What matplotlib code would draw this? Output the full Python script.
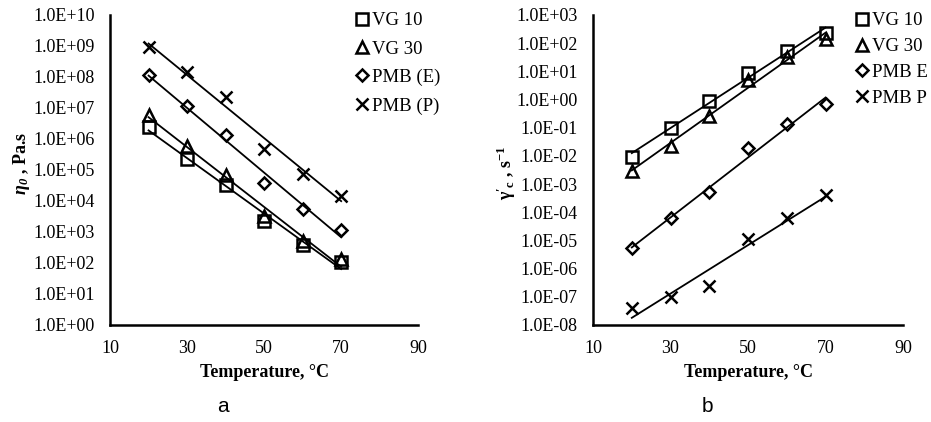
import numpy as np
import matplotlib
matplotlib.use("Agg")
import matplotlib.pyplot as plt

plt.rcParams['font.family'] = ['Liberation Serif', 'DejaVu Serif']
plt.rcParams['mathtext.fontset'] = 'custom'
plt.rcParams['mathtext.rm'] = 'Liberation Serif'
plt.rcParams['mathtext.it'] = 'Liberation Serif:italic'
plt.rcParams['mathtext.bf'] = 'Liberation Serif:bold'
plt.rcParams['mathtext.bfit'] = 'Liberation Serif:italic:bold'

temps = [20, 30, 40, 50, 60, 70]

# Panel a: zero-shear viscosity (Pa.s)
eta_vg10 = [2.5e6, 2.3e5, 3.3e4, 2.2e3, 3.8e2, 1.1e2]
eta_vg30 = [5.9e6, 6.0e5, 6.9e4, 3.3e3, 5.3e2, 1.3e2]
eta_pmbe = [1.15e8, 1.15e7, 1.3e6, 3.9e4, 5.4e3, 1.15e3]
eta_pmbp = [9.5e8, 1.5e8, 2.2e7, 4.8e5, 7.4e4, 1.5e4]
labels_a = ["VG 10", "VG 30", "PMB (E)", "PMB (P)"]

# Panel b: critical shear rate (1/s)
gam_vg10 = [9.3e-3, 0.10, 0.90, 8.5, 54, 235]
gam_vg30 = [2.8e-3, 0.023, 0.26, 4.9, 33, 138]
gam_pmbe = [5.2e-6, 6.1e-5, 5.1e-4, 0.0196, 0.135, 0.69]
gam_pmbp = [3.9e-8, 1.0e-7, 2.5e-7, 1.1e-5, 6.1e-5, 4.1e-4]
labels_b = ["VG 10", "VG 30", "PMB E", "PMB P"]

markers = ['s', '^', 'D', 'x']
msizes = [8, 8, 6, 8]

fig = plt.figure(figsize=(9.31, 4.22), dpi=100)
axa = fig.add_axes([0.1182, 0.2299, 0.331, 0.7346])
axb = fig.add_axes([0.637, 0.2299, 0.333, 0.7346])


def fmt(k):
    return "1.0E%s%02d" % ('+' if k >= 0 else '-', abs(k))


def draw(ax, series, labels, ylo, yhi, ylabel, leg_x, leg_y, spacing, ylab_xy):
    t = np.array(temps, dtype=float)
    handles = []
    for vals, lab, m, ms in zip(series, labels, markers, msizes):
        v = np.array(vals, dtype=float)
        c = np.polyfit(t, np.log10(v), 1)
        ax.plot(t, 10 ** np.polyval(c, t), color='black', lw=1.3, zorder=2)
        h, = ax.plot(t, v, linestyle='none', marker=m, markersize=ms,
                     markerfacecolor='none', markeredgecolor='black',
                     markeredgewidth=1.8, label=lab, zorder=3)
        handles.append(h)
    ax.set_yscale('log')
    ax.set_xlim(10, 90)
    ax.set_ylim(10.0 ** ylo, 10.0 ** yhi)
    ax.set_xticks([10, 30, 50, 70, 90])
    ax.set_yticks([10.0 ** k for k in range(ylo, yhi + 1)])
    ax.minorticks_off()
    ax.set_yticklabels([fmt(k) for k in range(ylo, yhi + 1)])
    ax.tick_params(axis='both', length=0, labelsize=13)
    ax.tick_params(axis='y', pad=11)
    ax.tick_params(axis='x', pad=11)
    for s in ['top', 'right']:
        ax.spines[s].set_visible(False)
    for s in ['left', 'bottom']:
        ax.spines[s].set_linewidth(1.8)
    ax.set_xlabel("Temperature, °C", fontsize=13, fontweight='bold', labelpad=5)
    ax.set_ylabel(ylabel, fontsize=13, fontweight='bold')
    ax.yaxis.set_label_coords(*ylab_xy)
    ax.legend(handles=handles, loc='upper left', bbox_to_anchor=(leg_x, leg_y),
              bbox_transform=fig.transFigure, frameon=False, fontsize=13.5,
              handlelength=0.8, handletextpad=0.15, borderpad=0, borderaxespad=0,
              labelspacing=spacing)


draw(axa, [eta_vg10, eta_vg30, eta_pmbe, eta_pmbp], labels_a, 0, 10,
     r"$\mathbfit{\eta_0}$ , Pa.s", 354 / 931, 1 - 12 / 422, 0.6, (-0.253, 0.52))
draw(axb, [gam_vg10, gam_vg30, gam_pmbe, gam_pmbp], labels_b, -8, 3,
     r"$\mathbf{\gamma'_c}$ , $\mathbf{s^{-1}}$", 854 / 931, 1 - 12 / 422, 0.47,
     (-0.242, 0.49))

fig.text(223 / 931, 1 - 407 / 422, "a", fontsize=15, family='Liberation Sans',
         ha='center', va='center')
fig.text(707 / 931, 1 - 407 / 422, "b", fontsize=15, family='Liberation Sans',
         ha='center', va='center')

fig.savefig("out.png", dpi=100)
